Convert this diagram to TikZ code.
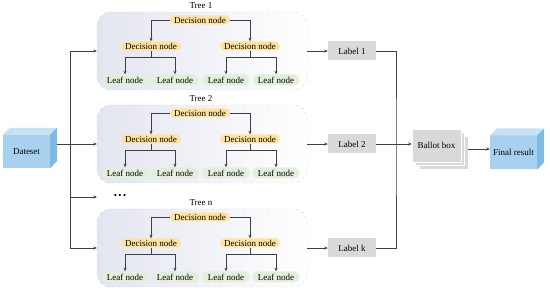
\documentclass[tikz,border=0pt]{standalone}
\usepackage{fontspec}
\setmainfont{Liberation Serif}
\usetikzlibrary{arrows.meta, positioning}

\definecolor{decyellow}{HTML}{FDE39C}
\definecolor{leafgreen}{HTML}{E2EFDA}
\definecolor{labgray}{HTML}{D9D9D9}
\definecolor{boxshade}{HTML}{E3E5F0}
\definecolor{linegray}{HTML}{404040}
\definecolor{cubeblue}{HTML}{A7D1EF}
\definecolor{cubetop}{HTML}{C6E2F5}
\definecolor{cubeside}{HTML}{7FBAE4}

\begin{document}
\begin{tikzpicture}[x=1pt, y=-1pt, font=\fontsize{9}{10}\selectfont,
        arr/.style={-{Stealth[length=3.5pt,width=3pt]}, line width=0.6pt, draw=linegray},
        line/.style={line width=0.6pt, draw=linegray},
        decnode/.style={fill=decyellow, rounded corners=4.5pt, minimum width=60pt, minimum height=9pt, inner sep=0pt},
        leafnode/.style={fill=leafgreen, rounded corners=5pt, minimum width=47pt, minimum height=11pt, inner sep=0pt},
        treebox/.style={draw=gray!35, dashed, rounded corners=14pt, left color=boxshade, right color=white, minimum width=210pt, minimum height=78pt},
        labelbox/.style={fill=labgray, minimum width=48pt, minimum height=19pt, inner sep=0pt},
        ballot/.style={fill=labgray, draw=white, line width=0.5pt, minimum width=49pt, minimum height=33pt, inner sep=0pt},
        cubefront/.style={fill=cubeblue, minimum width=47pt, minimum height=33pt, inner sep=0pt}]
        \useasboundingbox (0,0) rectangle (550,294);

        % The trees
        \foreach \i/\c/\t/\lab in {1/51/1/1, 2/144/2/2, 3/248/n/k} {
            \node[treebox] (box\i) at (202,\c) {};
            \node (title\i) at (201,\c-45) {Tree \t};
            \node[decnode] (root\i) at (200,\c-31) {Decision node};
            \node[decnode] (dl\i) at (151,\c-5) {Decision node};
            \node[decnode] (dr\i) at (250,\c-5) {Decision node};
            \node[leafnode] (ll\i) at (125,\c+29) {Leaf node};
            \node[leafnode] (lr\i) at (175,\c+29) {Leaf node};
            \node[leafnode] (rl\i) at (226,\c+29) {Leaf node};
            \node[leafnode] (rr\i) at (276,\c+29) {Leaf node};
            \draw[arr] (root\i.west) -| (dl\i.north);
            \draw[arr] (root\i.east) -| (dr\i.north);
            \draw[arr] (dl\i.south) -- ++(0,6.5) -| (ll\i.north);
            \draw[arr] (dl\i.south) -- ++(0,6.5) -| (lr\i.north);
            \draw[arr] (dr\i.south) -- ++(0,6.5) -| (rl\i.north);
            \draw[arr] (dr\i.south) -- ++(0,6.5) -| (rr\i.north);
            % Label of each tree
            \node[labelbox] (lab\i) at (352,\c) {Label \lab};
            \draw[arr] (box\i.east) -- (lab\i.west);
        }

        % The dots between tree 2 and tree n
        \node (dots) at (120,196) {\textbullet\hspace{1.5pt}\textbullet\hspace{1.5pt}\textbullet};
        \coordinate (dotsin) at (97,197);

        % Dataset cube
        \node[cubefront] (data) at (26.5,151.5) {Dateset};
        \fill[cubetop] (data.north west) -- ++(7,-7) -- ++(47,0) -- (data.north east) -- cycle;
        \fill[cubeside] (data.north east) -- ++(7,-7) -- ++(0,33) -- (data.south east) -- cycle;

        % Dataset to the trees
        \coordinate (trunk) at (70,144);
        \draw[arr] ([xshift=7pt]data.east |- box2.west) -- (box2.west);
        \draw[arr] (trunk) |- (box1.west);
        \draw[arr] (trunk) |- (dotsin);
        \draw[arr] (trunk) |- (box3.west);

        % Ballot box
        \node[ballot] (b3) at (443.5,152.5) {};
        \node[ballot] (b2) at (440,149) {};
        \node[ballot] (b1) at (436.5,145.5) {Ballot box};

        % Labels to the ballot box
        \coordinate (collect) at (396,144);
        \draw[line] (lab1.east) -| (collect) |- (lab3.east);
        \draw[arr] (lab2.east) -- (b1.west |- lab2.east);

        % Final result cube
        \node[cubefront, minimum height=34pt] (fin) at (513.5,152.5) {Final result};
        \fill[cubetop] (fin.north west) -- ++(7,-7) -- ++(47,0) -- (fin.north east) -- cycle;
        \fill[cubeside] (fin.north east) -- ++(7,-7) -- ++(0,34) -- (fin.south east) -- cycle;
        \draw[arr] (b3.east |- b2.east) -- (fin.west |- b2.east);

    \end{tikzpicture}
\end{document}
